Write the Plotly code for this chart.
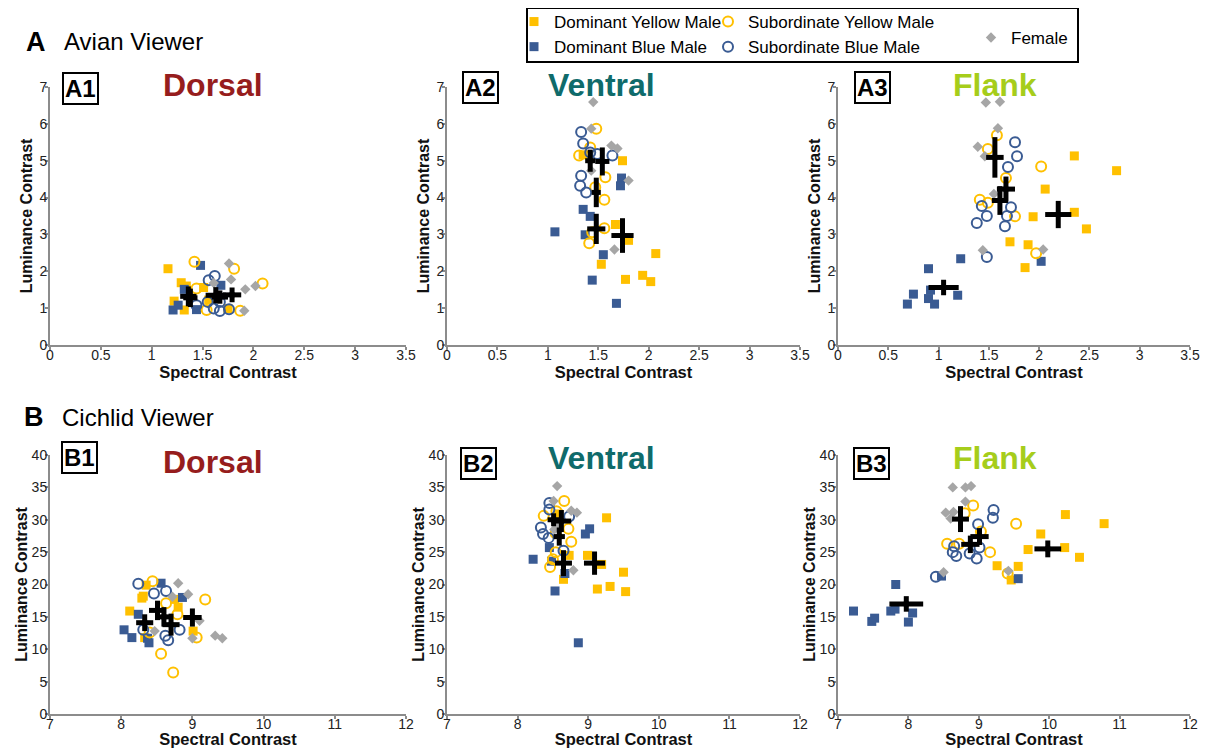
import plotly.graph_objects as go

# page is rendered with an 8px body margin: figure is sized to fill the rest
PAGE_OFF = 8
W, H = 1205, 740

# ---------------- data ----------------
groups = ["Dominant Yellow Male", "Dominant Blue Male", "Subordinate Yellow Male",
          "Subordinate Blue Male", "Female"]

# Panel A1 (Avian, Dorsal)
a1_dom_yellow = [(1.16, 2.07), (1.29, 1.69), (1.34, 1.60), (1.51, 1.56), (1.22, 1.19), (1.32, 0.95), (1.75, 0.99), (1.56, 1.22)]
a1_dom_blue = [(1.48, 2.16), (1.32, 1.51), (1.68, 1.62), (1.21, 0.95), (1.26, 1.08), (1.44, 0.96)]
a1_sub_yellow = [(1.42, 2.26), (1.81, 2.07), (2.09, 1.67), (1.54, 0.95), (1.87, 0.93), (1.44, 1.53)]
a1_sub_blue = [(1.62, 1.87), (1.56, 1.76), (1.61, 0.99), (1.67, 0.92), (1.76, 0.97), (1.55, 1.17), (1.67, 1.17), (1.44, 1.08)]
a1_female = [(1.76, 2.21), (1.78, 1.78), (1.92, 1.51), (2.02, 1.60), (1.91, 0.93), (1.61, 1.68)]
a1_mean_x = [1.36, 1.38, 1.63, 1.67, 1.79]
a1_mean_y = [1.32, 1.28, 1.35, 1.30, 1.36]
a1_err_x = [0.08, 0.07, 0.10, 0.08, 0.09]
a1_err_y = [0.27, 0.25, 0.22, 0.18, 0.20]

# Panel A2 (Avian, Ventral)
a2_dom_yellow = [(1.74, 5.0), (1.67, 3.27), (1.80, 2.84), (2.07, 2.48), (1.53, 2.19), (1.77, 1.78), (1.94, 1.89), (2.02, 1.72), (1.35, 5.16)]
a2_dom_blue = [(1.73, 4.53), (1.72, 4.32), (1.35, 3.68), (1.42, 3.49), (1.07, 3.07), (1.37, 2.99), (1.55, 2.45), (1.44, 1.76), (1.68, 1.13)]
a2_sub_yellow = [(1.48, 5.87), (1.42, 5.36), (1.31, 5.14), (1.57, 4.55), (1.56, 3.94), (1.56, 3.17), (1.41, 2.76), (1.44, 3.06), (1.47, 4.28)]
a2_sub_blue = [(1.33, 5.78), (1.35, 5.47), (1.42, 5.22), (1.49, 5.18), (1.64, 5.14), (1.33, 4.59), (1.32, 4.32), (1.38, 4.14)]
a2_female = [(1.45, 6.59), (1.43, 5.87), (1.63, 5.41), (1.69, 5.33), (1.80, 4.46), (1.43, 4.73), (1.66, 2.59)]
a2_mean_x = [1.74, 1.48, 1.48, 1.42, 1.54]
a2_mean_y = [2.97, 3.15, 4.14, 5.00, 4.98]
a2_err_x = [0.11, 0.09, 0.045, 0.05, 0.07]
a2_err_y = [0.47, 0.41, 0.40, 0.30, 0.38]

# Panel A3 (Avian, Flank)
a3_dom_yellow = [(2.35, 5.13), (2.06, 4.23), (2.35, 3.60), (1.94, 3.48), (2.47, 3.15), (1.71, 2.80), (1.89, 2.72), (1.86, 2.10), (2.77, 4.73)]
a3_dom_blue = [(1.22, 2.34), (0.90, 2.07), (2.02, 2.27), (0.75, 1.38), (0.90, 1.26), (1.19, 1.35), (0.69, 1.11), (0.96, 1.11), (0.92, 1.49)]
a3_sub_yellow = [(1.58, 5.69), (1.49, 5.32), (2.02, 4.84), (1.67, 4.53), (1.41, 3.94), (1.49, 3.86), (1.76, 3.49), (1.97, 2.49)]
a3_sub_blue = [(1.76, 5.50), (1.78, 5.12), (1.69, 4.83), (1.43, 3.77), (1.72, 3.74), (1.48, 3.50), (1.68, 3.50), (1.38, 3.31), (1.66, 3.22), (1.48, 2.39)]
a3_female = [(1.47, 6.58), (1.61, 6.60), (1.59, 5.88), (1.39, 5.38), (1.46, 5.12), (1.55, 4.10), (1.44, 2.57), (2.04, 2.59)]
a3_mean_x = [2.19, 1.05, 1.67, 1.61, 1.56]
a3_mean_y = [3.54, 1.56, 4.23, 3.92, 5.09]
a3_err_x = [0.13, 0.15, 0.09, 0.08, 0.087]
a3_err_y = [0.37, 0.21, 0.34, 0.39, 0.55]

# Panel B1 (Cichlid, Dorsal)
b1_dom_yellow = [(8.35, 19.9), (8.31, 18.2), (8.29, 17.9), (8.75, 17.7), (8.80, 16.5), (8.12, 15.9), (9.01, 12.8), (8.33, 11.8)]
b1_dom_blue = [(8.56, 20.2), (8.86, 18.0), (8.24, 15.4), (8.04, 13.0), (8.15, 11.8), (8.37, 11.7), (8.39, 11.0)]
b1_sub_yellow = [(8.44, 20.5), (9.18, 17.7), (8.63, 17.1), (8.79, 15.4), (8.40, 12.6), (9.06, 11.8), (8.56, 9.3), (8.73, 6.4)]
b1_sub_blue = [(8.24, 20.1), (8.46, 18.6), (8.63, 19.0), (8.31, 13.0), (8.82, 13.0), (8.62, 12.1), (8.66, 11.4)]
b1_female = [(8.80, 20.2), (8.94, 18.5), (8.72, 18.1), (9.10, 14.4), (9.00, 11.7), (9.32, 12.1), (9.42, 11.7), (8.47, 12.8)]
b1_mean_x = [8.51, 8.33, 8.60, 8.70, 9.00]
b1_mean_y = [16.0, 14.1, 15.0, 13.8, 14.9]
b1_err_x = [0.12, 0.12, 0.10, 0.12, 0.13]
b1_err_y = [1.5, 1.3, 1.5, 1.7, 1.4]

# Panel B2 (Cichlid, Ventral)
b2_dom_yellow = [(9.26, 30.3), (8.73, 24.5), (8.99, 24.5), (9.19, 23.1), (8.65, 20.8), (9.50, 21.9), (9.13, 19.3), (9.31, 19.7), (9.53, 18.9), (8.58, 30.9)]
b2_dom_blue = [(9.02, 28.6), (8.96, 27.8), (8.45, 25.7), (8.22, 23.9), (8.48, 23.6), (8.67, 21.7), (8.53, 19.0), (8.86, 11.0)]
b2_sub_yellow = [(8.66, 32.9), (8.37, 30.6), (8.55, 31.3), (8.72, 28.6), (8.54, 27.9), (8.76, 26.6), (8.54, 25.0), (8.46, 22.7), (8.50, 23.9)]
b2_sub_blue = [(8.45, 32.6), (8.45, 31.6), (8.73, 30.5), (8.33, 28.8), (8.36, 27.8), (8.44, 27.2), (8.65, 25.2)]
b2_female = [(8.56, 35.2), (8.51, 32.9), (8.76, 31.4), (8.84, 31.1), (8.57, 29.2), (8.52, 28.5), (8.79, 22.2)]
b2_mean_x = [9.09, 8.65, 8.59, 8.51, 8.62]
b2_mean_y = [23.3, 23.3, 27.4, 30.0, 29.8]
b2_err_x = [0.15, 0.12, 0.08, 0.085, 0.14]
b2_err_y = [1.8, 2.0, 1.4, 1.0, 1.7]

# Panel B3 (Cichlid, Flank)
b3_dom_yellow = [(10.23, 30.8), (10.78, 29.4), (9.88, 27.8), (9.70, 25.4), (10.22, 25.7), (10.43, 24.2), (9.26, 22.9), (9.56, 22.8), (9.46, 20.7)]
b3_dom_blue = [(8.47, 21.3), (9.56, 20.9), (7.82, 20.0), (7.22, 15.9), (7.52, 14.8), (7.48, 14.3), (7.75, 15.9), (7.81, 16.2), (8.06, 15.6), (8.00, 14.2)]
b3_sub_yellow = [(8.92, 32.2), (8.80, 31.0), (9.53, 29.4), (9.03, 28.2), (8.55, 26.3), (8.72, 26.3), (9.16, 25.0), (9.41, 21.7)]
b3_sub_blue = [(9.21, 31.5), (9.20, 30.3), (8.99, 29.3), (8.65, 25.9), (8.63, 25.0), (8.68, 24.4), (8.87, 24.8), (9.01, 25.7), (8.97, 24.0), (8.39, 21.2)]
b3_female = [(8.63, 35.0), (8.81, 35.0), (8.89, 35.2), (8.81, 32.8), (8.53, 31.1), (8.64, 31.2), (8.60, 30.2), (8.50, 21.9), (9.42, 22.1)]
b3_mean_x = [9.98, 7.97, 9.01, 8.88, 8.74]
b3_mean_y = [25.5, 17.0, 27.4, 26.2, 30.1]
b3_err_x = [0.19, 0.24, 0.13, 0.13, 0.12]
b3_err_y = [1.3, 1.2, 1.3, 1.35, 2.0]

panel_titles = ["Dorsal", "Ventral", "Flank", "Dorsal", "Ventral", "Flank"]
panel_tags = ["A1", "A2", "A3", "B1", "B2", "B3"]
avian_x_ticks = [0, 0.5, 1, 1.5, 2, 2.5, 3, 3.5]
avian_y_ticks = [0, 1, 2, 3, 4, 5, 6, 7]
cichlid_x_ticks = [7, 8, 9, 10, 11, 12]
cichlid_y_ticks = [0, 5, 10, 15, 20, 25, 30, 35, 40]

# ---------------- styles ----------------
FONT = "Arial, 'Liberation Sans', sans-serif"
YEL = "#FFC000"
BLU = "#3A5B93"
GRY = "#A6A6A6"
AXC = "#8C8C8C"
title_colors = {"Dorsal": "#961D1D", "Ventral": "#0F6B6B", "Flank": "#A6CD1B"}


def px_x(px):
    return (px - PAGE_OFF) / W


def px_y(py):
    return 1 - (py - PAGE_OFF) / H


styles = [
    dict(symbol="square", size=9, color=YEL, line=dict(width=0)),
    dict(symbol="square", size=9, color=BLU, line=dict(width=0)),
    dict(symbol="circle-open", size=10, color=YEL, line=dict(width=2, color=YEL)),
    dict(symbol="circle-open", size=10, color=BLU, line=dict(width=2, color=BLU)),
    dict(symbol="diamond", size=8, color=GRY, line=dict(width=0)),
]
legend_ids = ["legend", "legend", "legend2", "legend2", "legend3"]

panels = [
    [a1_dom_yellow, a1_dom_blue, a1_sub_yellow, a1_sub_blue, a1_female, a1_mean_x, a1_mean_y, a1_err_x, a1_err_y],
    [a2_dom_yellow, a2_dom_blue, a2_sub_yellow, a2_sub_blue, a2_female, a2_mean_x, a2_mean_y, a2_err_x, a2_err_y],
    [a3_dom_yellow, a3_dom_blue, a3_sub_yellow, a3_sub_blue, a3_female, a3_mean_x, a3_mean_y, a3_err_x, a3_err_y],
    [b1_dom_yellow, b1_dom_blue, b1_sub_yellow, b1_sub_blue, b1_female, b1_mean_x, b1_mean_y, b1_err_x, b1_err_y],
    [b2_dom_yellow, b2_dom_blue, b2_sub_yellow, b2_sub_blue, b2_female, b2_mean_x, b2_mean_y, b2_err_x, b2_err_y],
    [b3_dom_yellow, b3_dom_blue, b3_sub_yellow, b3_sub_blue, b3_female, b3_mean_x, b3_mean_y, b3_err_x, b3_err_y],
]

# page-pixel extents of each plot area
col_px = [(50, 406), (447, 800), (838, 1190)]
row_px = [(87, 345), (455, 714)]

fig = go.Figure()
layout = {}
for i, p in enumerate(panels):
    r, c = divmod(i, 3)
    xa = "x" if i == 0 else f"x{i+1}"
    ya = "y" if i == 0 else f"y{i+1}"
    for g in range(5):
        pts = p[g]
        fig.add_trace(go.Scatter(
            x=[q[0] for q in pts], y=[q[1] for q in pts], mode="markers",
            name=groups[g], legendgroup=groups[g], showlegend=(i == 0),
            legend=legend_ids[g], marker=styles[g], xaxis=xa, yaxis=ya,
            hoverinfo="x+y+name"))
    fig.add_trace(go.Scatter(
        x=p[5], y=p[6], mode="markers", showlegend=False,
        marker=dict(size=5, color="black", symbol="square"),
        error_x=dict(type="data", array=p[7], thickness=5, width=0, color="black"),
        error_y=dict(type="data", array=p[8], thickness=5, width=0, color="black"),
        xaxis=xa, yaxis=ya, hoverinfo="skip"))

    x0, x1 = col_px[c]
    y0, y1 = row_px[r]
    if r == 0:
        xr, xt, yr, yt = [0, 3.5], avian_x_ticks, [0, 7], avian_y_ticks
    else:
        xr, xt, yr, yt = [7, 12], cichlid_x_ticks, [0, 40], cichlid_y_ticks
    axis_common = dict(showgrid=False, zeroline=False, showline=True, linecolor=AXC,
                       linewidth=2, ticks="outside", ticklen=3, tickwidth=1.5,
                       tickcolor=AXC, tickfont=dict(family=FONT, size=14, color="#222"),
                       automargin=False, fixedrange=True)
    layout["xaxis" if i == 0 else f"xaxis{i+1}"] = dict(
        axis_common, domain=[px_x(x0), px_x(x1)], range=xr, tickvals=xt,
        anchor=ya, ticklabelstandoff=-7,
        title=dict(text="<b>Spectral Contrast</b>", standoff=1,
                   font=dict(family=FONT, size=16.5, color="#111")))
    layout["yaxis" if i == 0 else f"yaxis{i+1}"] = dict(
        axis_common, domain=[px_y(y1), px_y(y0)], range=yr, tickvals=yt,
        anchor=xa, ticklabelstandoff=-5,
        title=dict(text="<b>Luminance Contrast</b>", standoff=3 if r == 0 else 0,
                   font=dict(family=FONT, size=16, color="#111")))

fig.update_layout(**layout)

# ---------------- annotations ----------------
ann = []


def add_text(px, py, text, size, color="black", xanchor="center", bold=False, **kw):
    t = f"<b>{text}</b>" if bold else text
    ann.append(dict(x=px_x(px), y=px_y(py), xref="paper", yref="paper", text=t,
                    showarrow=False, xanchor=xanchor, yanchor="middle",
                    font=dict(family=FONT, size=size, color=color), **kw))


add_text(36, 42, "A", 27, bold=True)
add_text(62, 42, "Avian Viewer", 24, xanchor="left")
add_text(34, 417, "B", 27, bold=True)
add_text(60, 417, "Cichlid Viewer", 24, xanchor="left")

title_pos = [(213, 85), (601, 85), (995, 85), (213, 462), (601, 458), (995, 458)]
tag_pos = [(80, 88), (480, 87), (872, 87), (79, 457), (478, 463), (871, 463)]
for i in range(6):
    tx, ty = title_pos[i]
    add_text(tx, ty, panel_titles[i], 32, color=title_colors[panel_titles[i]], bold=True)
    gx, gy = tag_pos[i]
    add_text(gx, gy, panel_tags[i], 24, bold=True, bordercolor="black",
             borderwidth=2, borderpad=1, bgcolor="white")

leg_font = dict(family=FONT, size=17, color="black")
fig.update_layout(
    annotations=ann,
    width=W, height=H,
    margin=dict(l=0, r=0, t=0, b=0, autoexpand=False),
    paper_bgcolor="white", plot_bgcolor="white",
    font=dict(family=FONT),
    shapes=[dict(type="rect", xref="paper", yref="paper",
                 x0=px_x(527), x1=px_x(1078), y0=px_y(62), y1=px_y(8),
                 line=dict(color="black", width=2), fillcolor="rgba(0,0,0,0)")],
    legend=dict(x=px_x(514), y=px_y(4), xanchor="left", yanchor="top",
                bgcolor="rgba(0,0,0,0)", font=leg_font, itemwidth=30, tracegroupgap=0),
    legend2=dict(x=px_x(708), y=px_y(4), xanchor="left", yanchor="top",
                 bgcolor="rgba(0,0,0,0)", font=leg_font, itemwidth=30, tracegroupgap=0),
    legend3=dict(x=px_x(971), y=px_y(20), xanchor="left", yanchor="top",
                 bgcolor="rgba(0,0,0,0)", font=leg_font, itemwidth=30, tracegroupgap=0),
    showlegend=True,
)

fig.write_html("out.html")
